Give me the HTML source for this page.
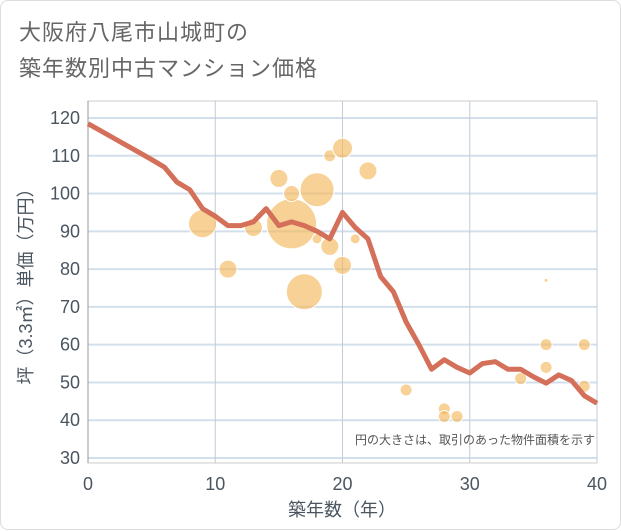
<!DOCTYPE html>
<html><head><meta charset="utf-8"><style>
body{margin:0;background:#fff;font-family:"Liberation Sans","Noto Sans CJK JP",sans-serif;}
#card{position:absolute;left:0;top:0;width:619px;height:528px;border:1px solid #ddd;border-radius:8px;background:#fff;}
.t{position:absolute;left:18px;font-size:22px;color:#666;letter-spacing:1px;}
</style></head><body>
<div id="card">
<div class="t" style="top:14px">大阪府八尾市山城町の</div>
<div class="t" style="top:50px">築年数別中古マンション価格</div>
<svg id="s" width="621" height="530" style="position:absolute;left:0;top:0"></svg>
</div>
<script>
const lineYears=[0,1,2,3,4,5,6,7,8,9,10,11,12,13,14,15,16,17,18,19,20,21,22,23,24,25,26,27,28,29,30,31,32,33,34,35,36,37,38,39,40];
const lineValues=[118.5,116.6,114.7,112.8,110.9,109,107,103,101,96,94,91.5,91.5,92.5,96,91.5,92.5,91.5,90,88,95,91,88,78,74,66,60,53.5,56,54,52.5,55,55.5,53.5,53.5,51.5,49.8,52,50.5,46.5,44.5];
const bubbleYears=[9,11,13,15,16,16,17,18,18,19,19,20,20,21,22,25,28,28,29,34,36,36,36,39,39];
const bubbleValues=[92,80,91,104,92,100,74,101,88,86,110,112,81,88,106,48,43,41,41,51,77,60,54,60,49];
const bubbleSizes=[14,9,9,9,25,8,18,17,5,9,6,10,9,5,9,6,6,6,6,6,2,6,6,6,6];
const xTicks=[0,10,20,30,40];
const yTicks=[30,40,50,60,70,80,90,100,110,120];
const NS='http://www.w3.org/2000/svg',s=document.getElementById('s');
const X0=87,X1=596,Y0=457,PY=3.778;
const sx=v=>X0+(X1-X0)*v/40, sy=v=>Y0-(v-30)*PY;
function el(t,a,p){const e=document.createElementNS(NS,t);for(const k in a)e.setAttribute(k,a[k]);(p||s).appendChild(e);return e;}
el('rect',{x:X0,y:100,width:X1-X0,height:362,fill:'none',stroke:'#ccc'});
yTicks.forEach(v=>{const g=el('line',{x1:X0,x2:X1,y1:sy(v),y2:sy(v),stroke:'#d3dfea','stroke-width':2});

const t=el('text',{x:X0-8,y:sy(v)+6,'text-anchor':'end','font-size':18,fill:'#4a5560'});t.textContent=v;
});
xTicks.forEach(v=>{const g=el('line',{x1:sx(v),x2:sx(v),y1:100,y2:462,stroke:'#c0ccd8','stroke-width':1});

const t=el('text',{x:sx(v),y:489,'text-anchor':'middle','font-size':18,fill:'#4a5560'});t.textContent=v;
});
el('line',{x1:X0,x2:X0,y1:100,y2:462,stroke:'#999'});
bubbleYears.forEach((yr,i)=>{const c=el('circle',{cx:sx(yr),cy:sy(bubbleValues[i]),r:bubbleSizes[i],fill:'rgba(242,184,92,0.65)',stroke:'#fff','stroke-width':1});
});
const p=el('polyline',{points:lineYears.map((y,i)=>sx(y)+','+sy(lineValues[i])).join(' '),fill:'none',stroke:'#d4705a','stroke-width':5,'stroke-linejoin':'round'});

const n=el('text',{x:594,y:443,'text-anchor':'end','font-size':12,fill:'#555'});n.textContent='円の大きさは、取引のあった物件面積を示す';

const xl=el('text',{x:341,y:515,'text-anchor':'middle','font-size':18,fill:'#4a5560'});xl.textContent='築年数（年）';

const yl=el('text',{x:0,y:0,'text-anchor':'middle','font-size':18,fill:'#4a5560',transform:'translate(31,281) rotate(-90)'});yl.textContent='坪（3.3㎡）単価（万円）';

</script></body></html>
